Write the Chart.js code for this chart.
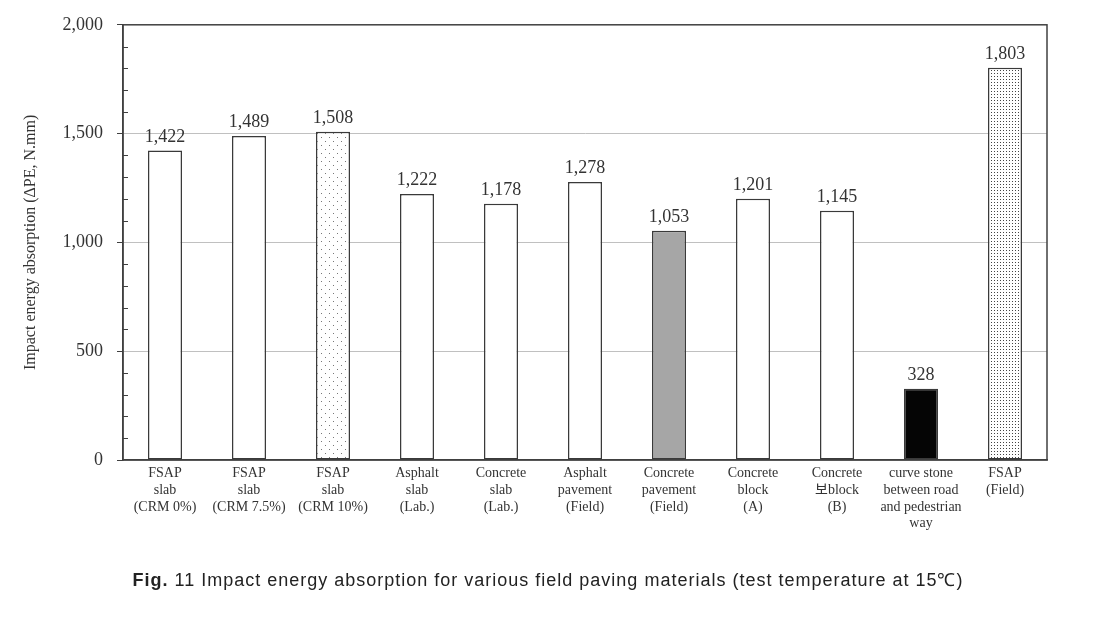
<!DOCTYPE html>
<html>
<head>
<meta charset="utf-8">
<script src="https://cdn.jsdelivr.net/npm/chart.js@4.4.1/dist/chart.umd.min.js"></script>
<style>
    html, body { margin: 0; padding: 0; background: #fff; }
    #wrap { position: relative; width: 1107px; height: 620px; }
    #caption {
        position: absolute; left: 0; width: 1096px; top: 567px;
        text-align: center; font: 18px "Liberation Sans Narrow", "Liberation Sans", sans-serif;
        letter-spacing: 1px;
        color: #222; white-space: nowrap;
    }
    #caption b { font-weight: bold; }
</style>
</head>
<body>
<div id="wrap">
    <canvas id="chart" width="1107" height="620"></canvas>
    <div id="caption"><b>Fig.</b> 11 Impact energy absorption for various field paving materials (test temperature at 15℃)</div>
</div>
<script>
// Data
const categories = [
    ['FSAP', 'slab', '(CRM 0%)'],
    ['FSAP', 'slab', '(CRM 7.5%)'],
    ['FSAP', 'slab', '(CRM 10%)'],
    ['Asphalt', 'slab', '(Lab.)'],
    ['Concrete', 'slab', '(Lab.)'],
    ['Asphalt', 'pavement', '(Field)'],
    ['Concrete', 'pavement', '(Field)'],
    ['Concrete', 'block', '(A)'],
    ['Concrete', '보block', '(B)'],
    ['curve stone', 'between road', 'and pedestrian', 'way'],
    ['FSAP', '(Field)']
];
const absorption = [1422, 1489, 1508, 1222, 1178, 1278, 1053, 1201, 1145, 328, 1803];
const yTicks = [0, 500, 1000, 1500, 2000];

const serif = "'Liberation Serif', 'Times New Roman', 'Noto Sans CJK KR', serif";
const ink = '#333333';

// dotted fills
function dotPattern(size, dots, dotColor) {
    const c = document.createElement('canvas');
    c.width = size; c.height = size;
    const g = c.getContext('2d');
    g.fillStyle = '#ffffff';
    g.fillRect(0, 0, size, size);
    g.fillStyle = dotColor;
    dots.forEach(d => g.fillRect(d[0], d[1], 1, 1));
    return g.createPattern(c, 'repeat');
}
const ctx = document.getElementById('chart').getContext('2d');
const sparseDots = dotPattern(8, [[1, 1], [5, 5]], '#777777');
const denseDots = dotPattern(3, [[1, 1]], '#444444');

const fills = ['#fff', '#fff', sparseDots, '#fff', '#fff', '#fff', '#a6a6a6', '#fff', '#fff', '#050505', denseDots];

function fmt(v) { return v.toLocaleString('en-US'); }

// frame, minor ticks and value labels
const extras = {
    id: 'extras',
    afterDraw(chart) {
        const c = chart.ctx;
        const a = chart.chartArea;
        const y = chart.scales.y;
        c.save();
        c.strokeStyle = '#404040';
        c.lineWidth = 1.5;
        c.strokeRect(a.left, a.top, a.right - a.left, a.bottom - a.top);
        c.lineWidth = 1;
        for (let v = 100; v < 2000; v += 100) {
            if (v % 500 === 0) continue;
            const py = Math.round(y.getPixelForValue(v)) + 0.5;
            c.beginPath();
            c.moveTo(a.left, py);
            c.lineTo(a.left + 5, py);
            c.stroke();
        }
        c.fillStyle = ink;
        c.font = '18px ' + serif;
        c.textAlign = 'center';
        c.textBaseline = 'alphabetic';
        const meta = chart.getDatasetMeta(0);
        meta.data.forEach((bar, i) => {
            c.fillText(fmt(absorption[i]), bar.x, bar.y - 9);
        });
        c.restore();
    }
};

new Chart(ctx, {
    type: 'bar',
    data: {
        labels: categories,
        datasets: [{
            data: absorption,
            backgroundColor: fills,
            borderColor: '#3a3a3a',
            borderWidth: 1.5,
            borderSkipped: false,
            barPercentage: 0.405,
            categoryPercentage: 1
        }]
    },
    options: {
        responsive: false,
        animation: false,
        layout: { padding: { left: 0, top: 24, right: 60, bottom: 0 } },
        plugins: {
            legend: { display: false },
            tooltip: { enabled: false }
        },
        scales: {
            x: {
                grid: { display: false, drawTicks: false },
                border: { display: true, color: '#404040', width: 1.5 },
                ticks: {
                    color: ink,
                    font: { family: serif, size: 14, lineHeight: 1.2 },
                    maxRotation: 0,
                    autoSkip: false,
                    padding: 5
                },
                afterFit(scale) { scale.height = 160; }
            },
            y: {
                min: 0,
                max: 2000,
                afterBuildTicks(scale) {
                    scale.ticks = yTicks.map(v => ({ value: v }));
                },
                grid: {
                    color: c => (c.tick && c.tick.value > 0 && c.tick.value < 2000) ? '#c0c0c0' : 'rgba(0,0,0,0)',
                    tickColor: '#404040',
                    tickLength: 6,
                    lineWidth: 1
                },
                border: { display: true, color: '#404040', width: 1.5 },
                ticks: {
                    color: ink,
                    font: { family: serif, size: 18 },
                    padding: 14,
                    callback: v => fmt(v)
                },
                title: {
                    display: true,
                    text: 'Impact energy absorption (ΔPE, N.mm)',
                    color: ink,
                    font: { family: serif, size: 16 },
                    padding: { top: 21, bottom: 0 }
                },
                afterFit(scale) { scale.width = 123; }
            }
        }
    },
    plugins: [extras]
});
</script>
</body>
</html>
